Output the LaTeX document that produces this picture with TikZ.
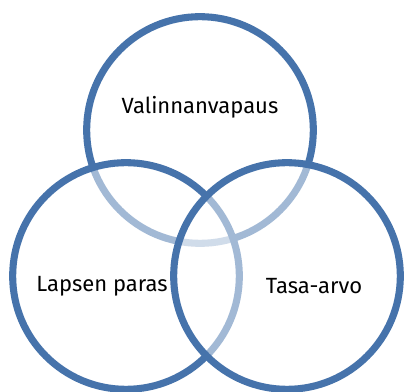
\documentclass[tikz,border=0pt]{standalone}
\usepackage{fontspec}
\setmainfont{Fira Sans}
\definecolor{vennblue}{HTML}{4673AB}

\begin{document}
\begin{tikzpicture}[x=0.75pt,y=-0.75pt,
	venn/.style={circle, draw=vennblue, line width=5.3pt, fill=white, fill opacity=0.5, draw opacity=1, minimum size=170pt, inner sep=0pt},
	lbl/.style={font=\fontsize{16.5}{19}\selectfont, text=black}]
\useasboundingbox (0,0) rectangle (405,392);
\node[venn] (vapaus) at (200,130) {};
\node[venn] (lapsi) at (126,276) {};
\node[venn] (tasa) at (287,276) {};
\node[lbl] (vapausl) at (200,107) {Valinnanvapaus};
\node[lbl] (lapsil) at (102,286) {Lapsen paras};
\node[lbl] (tasal) at (314,286) {Tasa-arvo};
\end{tikzpicture}
\end{document}
